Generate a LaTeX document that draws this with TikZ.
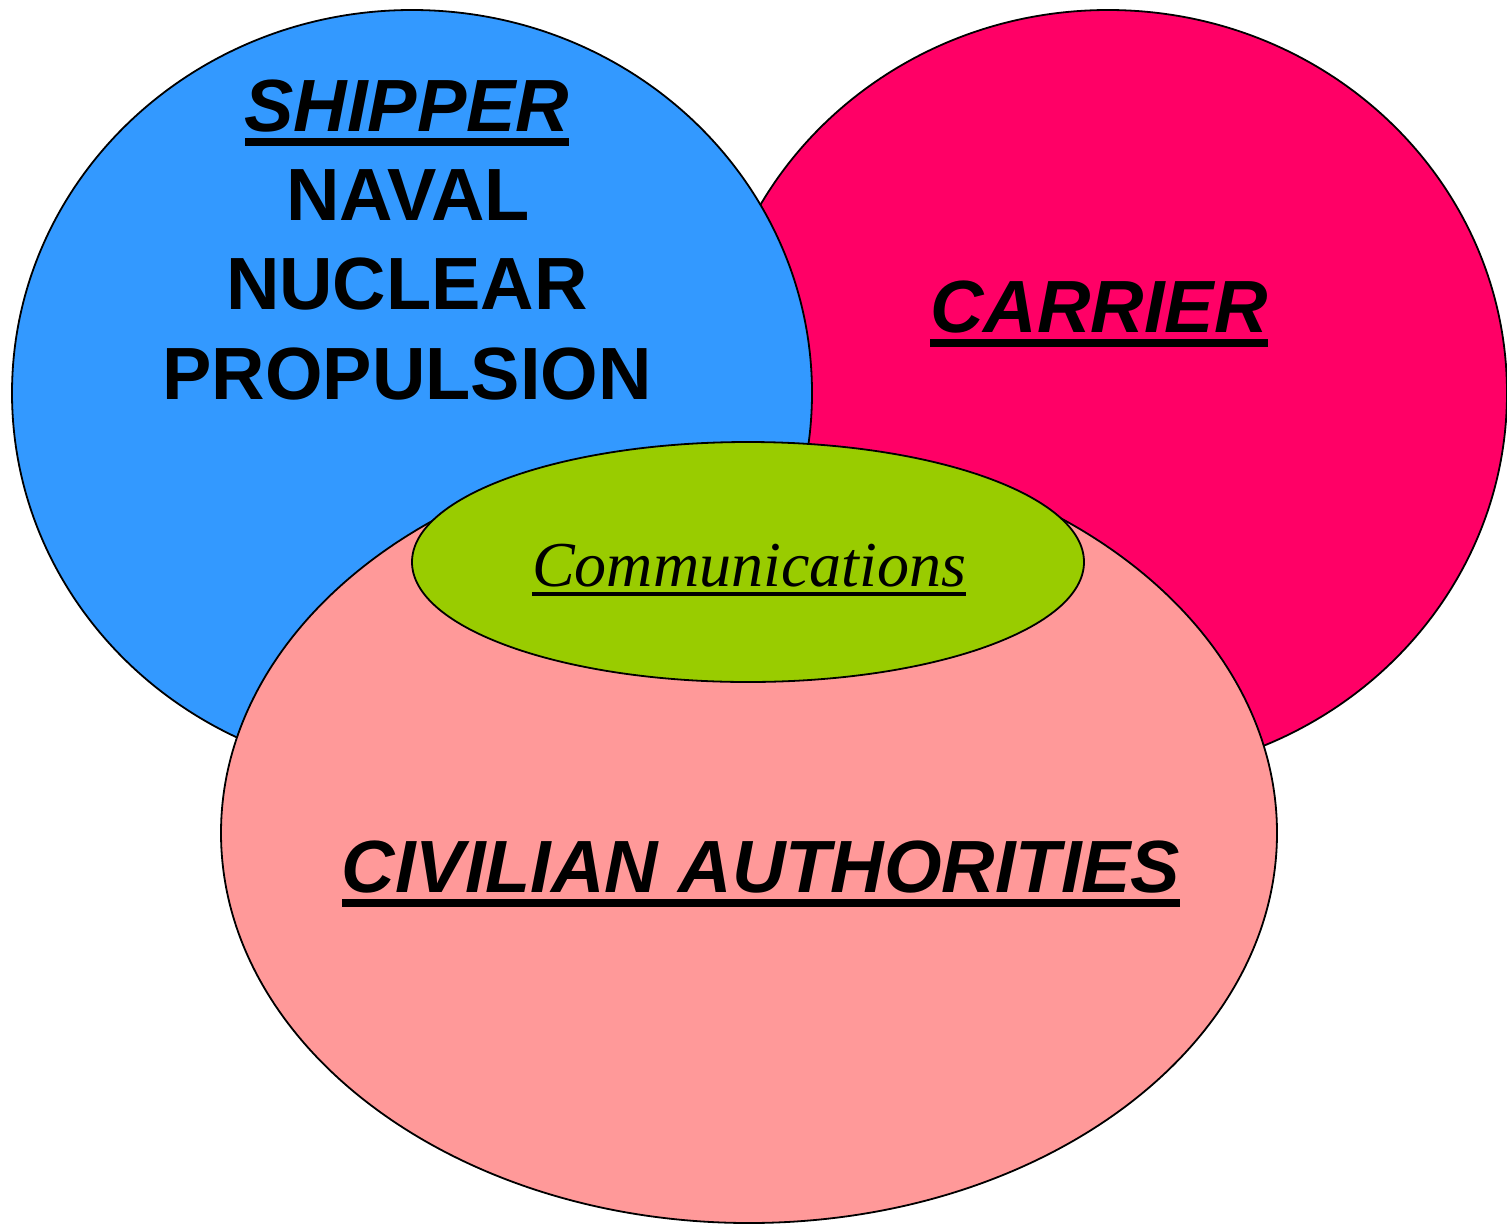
\documentclass[tikz,border=0pt]{standalone}
\usepackage{fontspec}
\setmainfont{Liberation Sans}
\newfontfamily\commfont{Liberation Serif}
\usepackage{tikz}

\definecolor{shipblue}{HTML}{3399FF}
\definecolor{carrierred}{HTML}{FF0066}
\definecolor{civilpink}{HTML}{FF9999}
\definecolor{commgreen}{HTML}{99CC00}

\newcommand\ulbar[3]{\setbox0\hbox{#1}\rlap{\rule[-#2em]{\wd0}{#3em}}\box0}
\newcommand\bigtxt{\fontsize{74}{89}\selectfont\bfseries}

\tikzset{
    blob/.style={draw=black,line width=1.8pt},
    label/.style={anchor=base,inner sep=0pt,font=\bigtxt}
}

\begin{document}
\begin{tikzpicture}[x=1pt,y=-1pt]
        \useasboundingbox (0,0) rectangle (1507,1224);
        \filldraw[blob,fill=carrierred] (1108,393) ellipse [x radius=399, y radius=383];
        \filldraw[blob,fill=shipblue] (412,393) ellipse [x radius=400, y radius=383];
        \filldraw[blob,fill=civilpink] (749,833) ellipse [x radius=528, y radius=390];
        \filldraw[blob,fill=commgreen] (748,562) ellipse [x radius=336, y radius=120];
        \node[label] (shipper) at (407,131) {\ulbar{\itshape SHIPPER}{0.2}{0.105}};
        \node[label] (naval) at (408,220) {NAVAL};
        \node[label] (nuclear) at (407,309) {NUCLEAR};
        \node[label] (propulsion) at (407,399) {PROPULSION};
        \node[label] (carrier) at (1099,332) {\ulbar{\itshape CARRIER}{0.2}{0.105}};
        \node[label] (civilian) at (761,892) {\ulbar{\itshape CIVILIAN AUTHORITIES}{0.2}{0.105}};
        \node[anchor=base,inner sep=0pt,font=\commfont\fontsize{64}{76}\selectfont] (comm) at (749,586) {\ulbar{\itshape Communications}{0.155}{0.06}};
    \end{tikzpicture}
\end{document}
